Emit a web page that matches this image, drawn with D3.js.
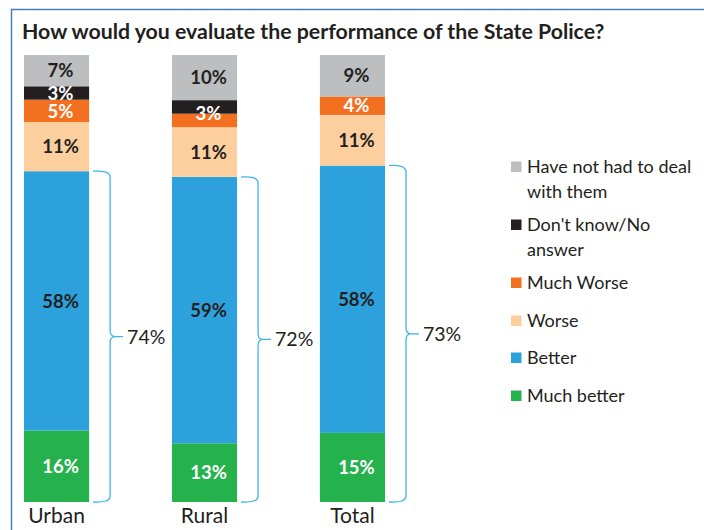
<!DOCTYPE html>
<html>
<head>
<meta charset="utf-8">
<script src="https://cdn.jsdelivr.net/npm/d3@7"></script>
<style>
  body { margin: 0; background: #fff; }
  svg { display: block; font-family: Lato, "Open Sans", sans-serif; }
</style>
</head>
<body>
<script>
// chart values
const categories = ["Urban", "Rural", "Total"];
const answers = ["Have not had to deal with them", "Don't know/No answer", "Much Worse", "Worse", "Better", "Much better"];
const haveNotDealt = [7, 10, 9];
const dontKnow = [3, 3, 0];
const muchWorse = [5, 3, 4];
const worse = [11, 11, 11];
const better = [58, 59, 58];
const muchBetter = [16, 13, 15];
const positiveTotals = ["74%", "72%", "73%"];
const legendLines = [["Have not had to deal", "with them"], ["Don't know/No", "answer"], ["Much Worse"], ["Worse"], ["Better"], ["Much better"]];

const colors = {
  "Have not had to deal with them": "#bcbec0",
  "Don't know/No answer": "#231f20",
  "Much Worse": "#f37021",
  "Worse": "#fdcf9e",
  "Better": "#2ca1db",
  "Much better": "#25b24d"
};
const whiteText = ["Don't know/No answer", "Much Worse", "Much better"];

const W = 704, H = 530;
const svg = d3.select("body").append("svg").attr("width", W).attr("height", H);

// frame
svg.append("path")
  .attr("d", `M11.5,${H + 5} L11.5,9.5 L${W + 5},9.5`)
  .attr("fill", "none").attr("stroke", "#4a7ebb").attr("stroke-width", 1.5);

svg.append("text")
  .attr("x", 22).attr("y", 39)
  .attr("font-size", 21.3).attr("font-weight", "bold").attr("fill", "#231f20")
  .text("How would you evaluate the performance of the State Police?");

const series = [haveNotDealt, dontKnow, muchWorse, worse, better, muchBetter];
const rows = categories.map((c, i) => {
  const r = { cat: c };
  answers.forEach((a, j) => r[a] = series[j][i]);
  return r;
});

// bottom segment first in the stack
const stack = d3.stack().keys(answers.slice().reverse()).offset(d3.stackOffsetExpand);
const layers = stack(rows);

const x = d3.scaleBand().domain(categories).range([24, 385]).paddingInner(0.56).paddingOuter(0);
const y = d3.scaleLinear().domain([0, 1]).range([502, 55]);

const bars = svg.append("g");
const labels = svg.append("g");
layers.forEach(layer => {
  bars.selectAll(null)
    .data(layer)
    .enter()
    .append("rect")
    .attr("x", d => x(d.data.cat))
    .attr("y", d => y(d[1]))
    .attr("width", x.bandwidth())
    .attr("height", d => y(d[0]) - y(d[1]))
    .attr("fill", colors[layer.key]);

  labels.selectAll(null)
    .data(layer.filter(d => d.data[layer.key] > 0 && !(d.data.cat == "Rural" && layer.key == "Don't know/No answer")))
    .enter()
    .append("text")
    .attr("x", d => x(d.data.cat) + x.bandwidth() / 2 + 4)
    .attr("y", d => {
      // rural: one "3%" label sits on the black/orange border
      if (d.data.cat == "Rural" && layer.key == "Much Worse") return y(d[1]);
      return (y(d[0]) + y(d[1])) / 2;
    })
    .attr("dy", "0.36em")
    .attr("text-anchor", "middle")
    .attr("font-size", 18.5).attr("font-weight", "bold")
    .attr("fill", whiteText.includes(layer.key) ? "#fff" : "#231f20")
    .text(d => d.data[layer.key] + "%");
});

// braces over Better + Much better
const betterLayer = layers.find(l => l.key == "Better");
betterLayer.forEach((d, i) => {
  const x0 = x(d.data.cat) + x.bandwidth() + 4;
  const xv = x0 + 17;
  const yT = y(d[1]), yB = y(0), yM = (yT + yB) / 2;
  const path = d3.path();
  path.moveTo(x0, yT);
  path.quadraticCurveTo(xv, yT - 1, xv, yT + 6);
  path.lineTo(xv, yM - 6);
  path.quadraticCurveTo(xv, yM, xv + 5, yM);
  path.lineTo(xv + 13, yM);
  path.moveTo(xv + 5, yM);
  path.quadraticCurveTo(xv, yM, xv, yM + 6);
  path.lineTo(xv, yB - 6);
  path.quadraticCurveTo(xv, yB + 1, x0, yB);
  svg.append("path").attr("d", path.toString())
    .attr("fill", "none").attr("stroke", "#3fb4ea").attr("stroke-width", 1.3);
  svg.append("text")
    .attr("x", xv + 17).attr("y", yM).attr("dy", "0.36em")
    .attr("font-size", 19.5).attr("fill", "#231f20")
    .text(positiveTotals[i]);
});

// category labels
svg.append("g").selectAll("text")
  .data(categories)
  .enter()
  .append("text")
  .attr("x", d => x(d) + x.bandwidth() / 2)
  .attr("y", 523)
  .attr("text-anchor", "middle")
  .attr("font-size", 21).attr("fill", "#231f20")
  .text(d => d);

// legend
const legendY = [167, 225, 283, 321, 358, 396];
const legend = svg.append("g");
answers.forEach((a, i) => {
  legend.append("rect")
    .attr("x", 511).attr("y", legendY[i] - 5.5)
    .attr("width", 10.5).attr("height", 10.5)
    .attr("fill", colors[a]);
  legendLines[i].forEach((line, k) => {
    legend.append("text")
      .attr("x", 527).attr("y", legendY[i] + k * 25).attr("dy", "0.36em")
      .attr("font-size", 18).attr("fill", "#231f20")
      .text(line);
  });
});
</script>
</body>
</html>
